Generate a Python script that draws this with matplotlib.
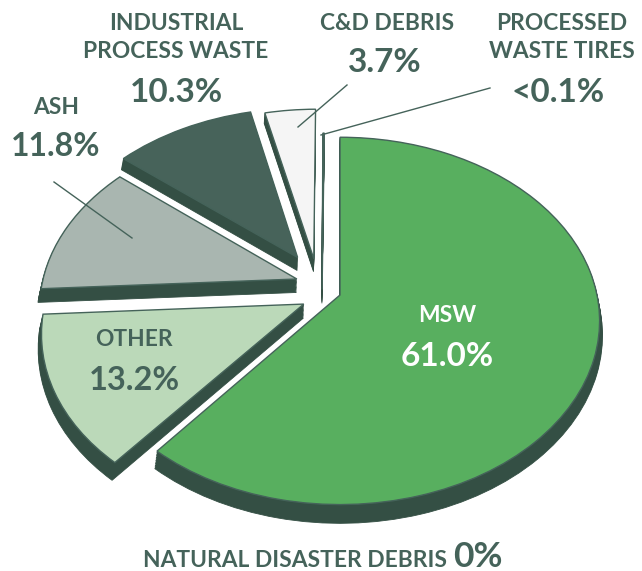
import numpy as np
import matplotlib
matplotlib.use('Agg')
import matplotlib.pyplot as plt
from matplotlib.patches import Wedge
from matplotlib.transforms import Transform

# Share of waste per category, clockwise from 12 o'clock
categories = ['MSW', 'OTHER', 'ASH', 'INDUSTRIAL PROCESS WASTE', 'C&D DEBRIS', 'PROCESSED WASTE TIRES']
values = [61.0, 13.2, 11.8, 10.3, 3.7, 0.1]
value_labels = ['61.0%', '13.2%', '11.8%', '10.3%', '3.7%', '<0.1%']
natural_label = 'NATURAL DISASTER DEBRIS'
natural_value = '0%'

colors = ['#58AF5F', '#BBD9B9', '#A9B6B0', '#47635A', '#F5F5F5', '#F5F5F5']
# how far each slice is pulled out of the pie (x, y)
offsets = [(0, 0), (-0.14, -0.05), (-0.17, 0.09), (-0.17, 0.215), (-0.105, 0.208), (-0.07, 0.03)]

side_color = '#344F44'
edge_color = '#45635A'
text_color = '#45635A'
depth = 0.076
tilt = 0.141
rx = 257
ry = 180

plt.rcParams['font.family'] = ['Lato', 'DejaVu Sans']


# Tilts the flat pie away from the viewer
class Tilt(Transform):
    input_dims = 2
    output_dims = 2
    is_separable = False

    def transform_non_affine(self, values):
        w = 1 + tilt * values[:, 1]
        return values / w[:, None]


fig = plt.figure(figsize=(6.42, 5.71), dpi=100)
ax = fig.add_axes([0, 0, 1, 1])
ax.axis('off')
trans = Tilt() + ax.transData

# Angles of each slice
shares = np.array(values) / sum(values) * 360
ends = 90 - np.cumsum(shares)
starts = ends + shares

# Back slices first so the front ones sit on top
for i in reversed(range(len(values))):
    cx, cy = offsets[i]
    for d in np.linspace(depth, 0, 12)[:-1]:
        ax.add_patch(Wedge((cx, cy - d), 1, ends[i], starts[i], facecolor=side_color,
                           edgecolor=side_color, linewidth=0.6, transform=trans))
    ax.add_patch(Wedge((cx, cy), 1, ends[i], starts[i], facecolor=colors[i],
                       edgecolor=edge_color, linewidth=1.0, transform=trans))

ax.set_xlim(-340 / rx, 302 / rx)
ax.set_ylim((295 - 571) / ry, 295 / ry)


def put_text(px, py, s, size, color=text_color, **kw):
    fig.text(px / 642, 1 - py / 571, s, fontsize=size, color=color, fontweight='bold',
             ha=kw.pop('ha', 'center'), va=kw.pop('va', 'center'), **kw)


def leader(x0, y0, x1, y1):
    fig.add_artist(plt.Line2D([x0 / 642, x1 / 642], [1 - y0 / 571, 1 - y1 / 571],
                              color=edge_color, linewidth=1.0))


head = 16.4
big = 24

put_text(176, 23, 'INDUSTRIAL', head)
put_text(176, 52, 'PROCESS WASTE', head)
put_text(176, 93, value_labels[3], big)
put_text(387, 23, categories[4], head)
put_text(385, 63, value_labels[4], big)
put_text(562, 23, 'PROCESSED', head)
put_text(562, 52, 'WASTE TIRES', head)
put_text(558, 93, value_labels[5], big)
put_text(56, 107, categories[2], head)
put_text(56, 146, value_labels[2], 23)
put_text(134, 340, categories[1], head)
put_text(134, 380, value_labels[1], 23.5)
put_text(447, 316, categories[0], head, color='white')
put_text(447, 357, value_labels[0], big, color='white')
put_text(447, 567, natural_label, head, ha='right', va='baseline')
put_text(453, 567, natural_value, 25.5, ha='left', va='baseline')

leader(347, 85, 298, 127)
leader(490, 88, 321, 135)
leader(54, 182, 132, 238)

plt.savefig('out.png', dpi=100)
